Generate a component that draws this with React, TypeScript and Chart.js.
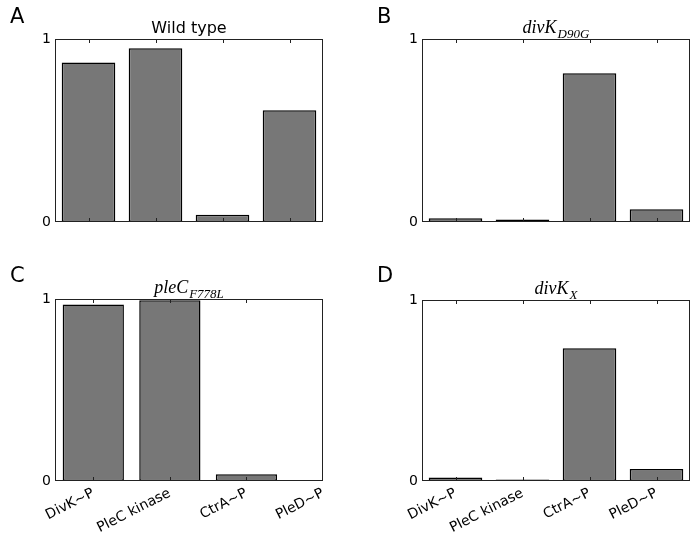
import React, { useEffect, useRef } from "react";
import { Chart, registerables } from "chart.js";

Chart.register(...registerables);

const categories = ["DivK~P", "PleC kinase", "CtrA~P", "PleD~P"];
const wildType = [0.872, 0.949, 0.04, 0.611];
const divKD90G = [0.02, 0.013, 0.813, 0.07];
const pleCF778L = [0.97, 0.993, 0.037, 0];
const divKX = [0.02, 0.008, 0.734, 0.066];
const yTickValues = [0, 1];
const xTickValues = [0, 1, 2, 3];

const W = 695;
const H = 541;
const Y_AXIS_W = 40;
const X_AXIS_H = 58;

type PanelDef = {
  letter: string;
  letterX: number;
  letterY: number;
  title: string;
  sub?: string;
  math: boolean;
  values: number[];
  area: { l: number; t: number; r: number; b: number };
  xMax: number;
  showLabels: boolean;
};

const panels: PanelDef[] = [
  { letter: "A", letterX: 10, letterY: 23, title: "Wild type", math: false, values: wildType,
    area: { l: 55, t: 39, r: 323, b: 222 }, xMax: 3.5, showLabels: false },
  { letter: "B", letterX: 377, letterY: 23, title: "divK", sub: "D90G", math: true, values: divKD90G,
    area: { l: 422, t: 39, r: 690, b: 222 }, xMax: 3.5, showLabels: false },
  { letter: "C", letterX: 10, letterY: 282, title: "pleC", sub: "F778L", math: true, values: pleCF778L,
    area: { l: 55, t: 299, r: 323, b: 481 }, xMax: 3.0, showLabels: true },
  { letter: "D", letterX: 377, letterY: 282, title: "divK", sub: "X", math: true, values: divKX,
    area: { l: 422, t: 300, r: 690, b: 481 }, xMax: 3.5, showLabels: true },
];

function makeDecor(p: PanelDef) {
  return {
    id: "decor" + p.letter,
    afterDatasetsDraw(chart: any) {
      const { ctx, chartArea: a, scales } = chart;
      ctx.save();
      ctx.strokeStyle = "#222";
      ctx.lineWidth = 1;
      xTickValues.forEach((v) => {
        const raw = scales.x.getPixelForValue(v);
        if (raw < a.left + 2 || raw > a.right - 2) return;
        const px = Math.round(raw) + 0.5;
        ctx.beginPath();
        ctx.moveTo(px, a.top);
        ctx.lineTo(px, a.top + 4);
        ctx.moveTo(px, a.bottom);
        ctx.lineTo(px, a.bottom - 4);
        ctx.stroke();
      });
      ctx.strokeRect(a.left + 0.5, a.top + 0.5, a.right - a.left - 1, a.bottom - a.top - 1);
      ctx.restore();
    },
    afterDraw(chart: any) {
      const { ctx, chartArea: a } = chart;
      ctx.save();
      ctx.fillStyle = "#000";
      ctx.textBaseline = "alphabetic";
      const cx = (a.left + a.right) / 2;
      if (!p.math) {
        ctx.font = '16px "DejaVu Sans"';
        ctx.textAlign = "center";
        ctx.fillText(p.title, cx, a.top - 6);
      } else {
        const mainFont = 'italic 18px "Liberation Serif"';
        const subFont = 'italic 13px "Liberation Serif"';
        ctx.font = mainFont;
        const w1 = ctx.measureText(p.title).width;
        ctx.font = subFont;
        const w2 = ctx.measureText(p.sub || "").width;
        const x0 = cx - (w1 + 1 + w2) / 2;
        ctx.textAlign = "left";
        ctx.font = mainFont;
        ctx.fillText(p.title, x0, a.top - 6);
        ctx.font = subFont;
        ctx.fillText(p.sub || "", x0 + w1 + 1, a.top - 1);
      }
      ctx.font = '21px "DejaVu Sans"';
      ctx.textAlign = "left";
      ctx.fillText(p.letter, p.letterX, p.letterY);
      ctx.restore();
    },
  };
}

function PanelChart({ p }: { p: PanelDef }) {
  const ref = useRef<HTMLCanvasElement | null>(null);
  useEffect(() => {
    if (!ref.current) return;
    const chart = new Chart(ref.current, {
      type: "bar",
      data: {
        datasets: [
          {
            data: p.values.map((v, i) => ({ x: i, y: v })),
            backgroundColor: "#777777",
            borderColor: "#000000",
            borderWidth: 1.5,
            borderSkipped: false,
            categoryPercentage: 0.8,
            barPercentage: 1,
          },
        ],
      },
      options: {
        animation: false,
        responsive: false,
        devicePixelRatio: 1,
        events: [],
        layout: {
          padding: {
            left: p.area.l - Y_AXIS_W,
            top: p.area.t,
            right: W - p.area.r,
            bottom: H - p.area.b - X_AXIS_H,
          },
        },
        plugins: {
          legend: { display: false },
          title: { display: false },
          tooltip: { enabled: false },
        },
        scales: {
          x: {
            type: "linear",
            offset: false,
            min: -0.5,
            max: p.xMax,
            grid: { display: false, drawTicks: false, offset: false },
            border: { display: false },
            afterBuildTicks: (scale: any) => {
              scale.ticks = xTickValues.map((v) => ({ value: v }));
            },
            afterFit: (scale: any) => {
              scale.height = X_AXIS_H;
            },
            ticks: {
              display: p.showLabels,
              autoSkip: false,
              minRotation: 27,
              maxRotation: 27,
              padding: 4,
              color: "#000",
              font: { family: "DejaVu Sans", size: 14 },
              callback: (v: any) => categories[Number(v)] ?? "",
            },
          },
          y: {
            type: "linear",
            min: 0,
            max: 1,
            grid: { display: false, drawTicks: false },
            border: { display: false },
            afterBuildTicks: (scale: any) => {
              scale.ticks = yTickValues.map((v) => ({ value: v }));
            },
            afterFit: (scale: any) => {
              scale.width = Y_AXIS_W;
            },
            ticks: {
              padding: 4,
              color: "#000",
              font: { family: "DejaVu Sans", size: 14 },
              callback: (v: any) => String(v),
            },
          },
        },
      },
      plugins: [makeDecor(p)],
    } as any);
    return () => chart.destroy();
  }, [p]);
  return (
    <canvas
      ref={ref}
      width={W}
      height={H}
      style={{ position: "absolute", left: 0, top: 0, width: W, height: H }}
    />
  );
}

export default function App() {
  return (
    <div style={{ position: "absolute", left: 0, top: 0, width: W, height: H, background: "#fff" }}>
      {panels.map((p) => (
        <PanelChart key={p.letter} p={p} />
      ))}
    </div>
  );
}
